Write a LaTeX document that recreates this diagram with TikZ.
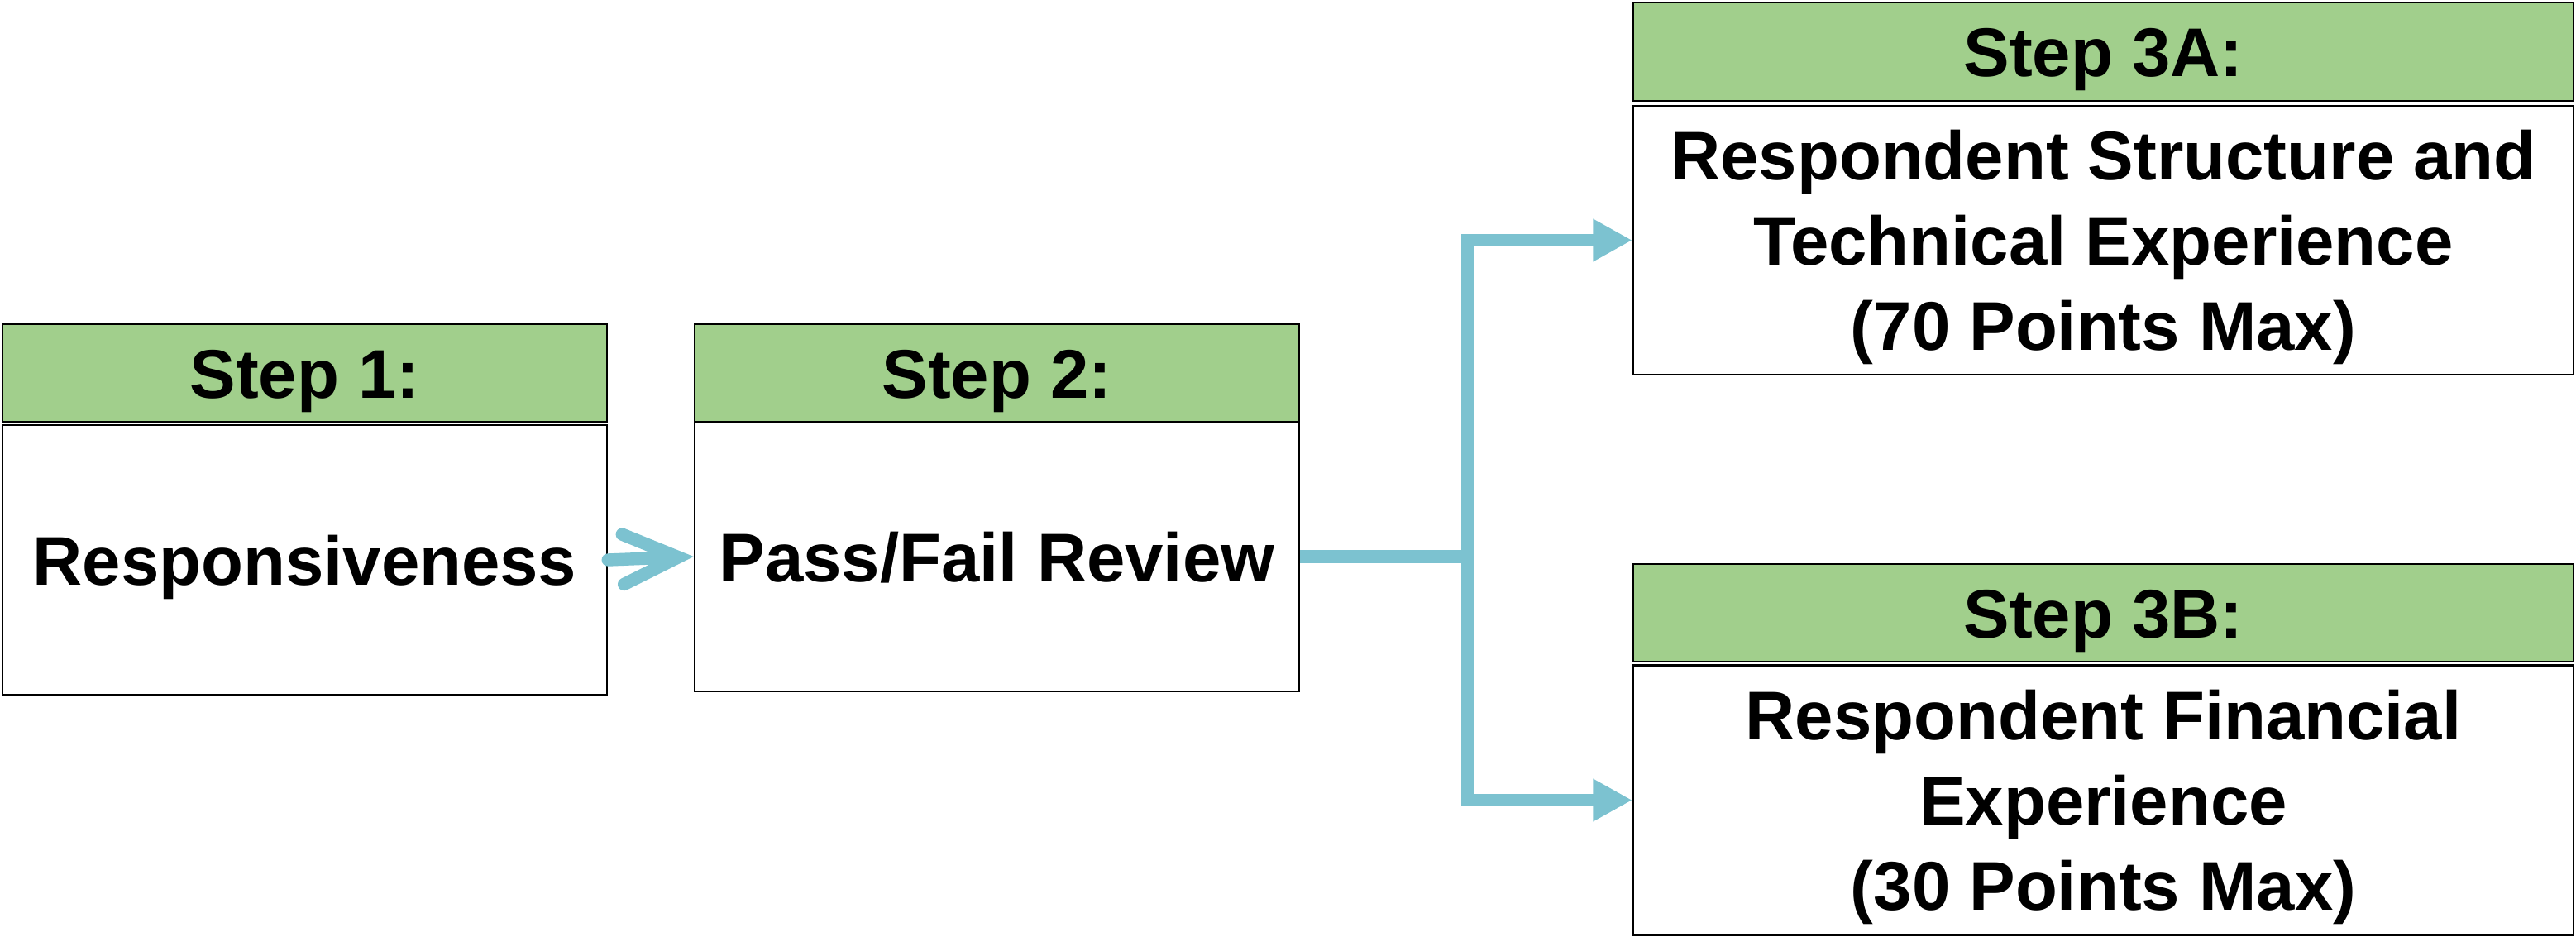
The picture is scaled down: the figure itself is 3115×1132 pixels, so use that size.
\documentclass[tikz,border=0pt]{standalone}
\usepackage{fontspec}
\setmainfont{Liberation Sans}
\usetikzlibrary{arrows.meta}
\definecolor{hdrgreen}{RGB}{161,207,140}
\definecolor{flowblue}{RGB}{124,194,208}
\begin{document}
\begin{tikzpicture}[x=0.24pt,y=-0.24pt,
  txt/.style={font=\fontsize{20pt}{24.72pt}\selectfont\bfseries, align=center, inner sep=0pt},
  hdr/.style={txt, draw=black, line width=0.6pt, fill=hdrgreen, minimum height=28.32pt, text height=14.4pt, text depth=0pt},
  bodybox/.style={txt, draw=black, line width=0.6pt, fill=white, minimum height=78.24pt},
  oneline/.style={text height=14.4pt, text depth=0pt},
  narrowbox/.style={minimum width=175.44pt},
  widebox/.style={minimum width=272.88pt},
  flow/.style={draw=flowblue, line width=3.7pt, line join=miter},
  bigtip/.style={-{Triangle[length=11.4pt,width=11.6pt]}}
]
\useasboundingbox (0,0) rectangle (3115,1132);

% Step 1
\node[hdr, narrowbox] (h1) at (368.5,451) {Step 1:};
\node[bodybox, narrowbox, oneline] (b1) at (368.5,677) {Responsiveness};

% Step 2
\node[hdr, narrowbox] (h2) at (1205.5,451) {Step 2:};
\node[bodybox, narrowbox, oneline] (b2) at (1205.5,673) {Pass/Fail Review};

% Step 3A
\node[hdr, widebox, minimum height=28.56pt] (h3a) at (2543.5,62.5) {Step 3A:};
\node[bodybox, widebox, minimum height=78pt] (b3a) at (2543.5,290.5)
  {\raisebox{0pt}[0.72em][\depth]{Respondent Structure and}\\Technical Experience\\\raisebox{0pt}[\height][0pt]{(70 Points Max)}};

% Step 3B
\node[hdr, widebox] (h3b) at (2543.5,741) {Step 3B:};
\node[bodybox, widebox] (b3b) at (2543.5,967.5)
  {\raisebox{0pt}[0.72em][\depth]{Respondent Financial}\\Experience\\\raisebox{0pt}[\height][0pt]{(30 Points Max)}};

% connectors
\draw[flow, line cap=round, -{Straight Barb[length=16pt,width=14.5pt,line cap=round,line join=miter]}] (b1.east) -- (b2.west);

\coordinate (j) at (1775,673);
\draw[flow, bigtip] (b2.east) -- (j) |- (b3a.west);
\draw[flow, bigtip] (j) |- (b3b.west);
\end{tikzpicture}
\end{document}
